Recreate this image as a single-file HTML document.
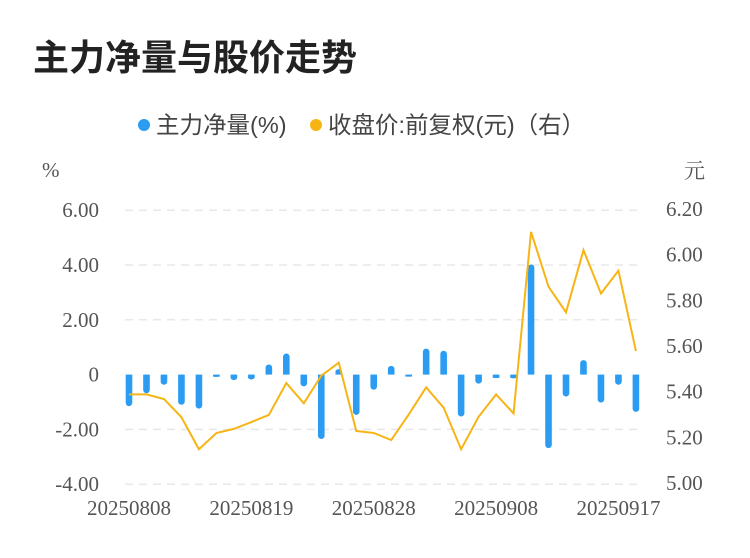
<!DOCTYPE html>
<html><head><meta charset="utf-8">
<style>
body{margin:0;background:#fff;width:750px;height:558px;overflow:hidden}
svg{display:block}
.t{font-family:"Liberation Serif","Noto Serif CJK SC",serif;fill:#555;font-size:21px}
</style></head>
<body>
<svg id="chart" width="750" height="558">
<text x="33" y="70" font-family="Liberation Sans,'Noto Sans CJK SC',sans-serif" font-weight="bold" font-size="36" fill="#222">主力净量与股价走势</text>
<g>
<g><circle cx="144" cy="125" r="6" fill="#2b9cf2"/><text x="156" y="133" font-family="Liberation Sans,'Noto Sans CJK SC',sans-serif" font-size="23.5" fill="#444">主力净量(%)</text></g>
<g><circle cx="316" cy="125" r="6" fill="#f7b515"/><text x="328" y="133" font-family="Liberation Sans,'Noto Sans CJK SC',sans-serif" font-size="23.5" fill="#444">收盘价:前复权(元)（右）</text></g>
</g>
<text class="t" x="42" y="177">%</text>
<text class="t" x="684" y="178" font-size="22" font-family="'Noto Sans CJK SC',sans-serif">元</text>
<g id="grid"></g><g id="bars"></g><g id="line"></g><g id="axes"></g>
</svg>
<script>
const categories=["20250808","0811","0812","0813","0814","0815","0818","20250819","0820","0821","0822","0825","0826","0827","20250828","0829","0901","0902","0903","0904","0905","20250908","0909","0910","0911","0912","0915","0916","20250917","0918"];
const netVolume=[-1.15,-0.68,-0.37,-1.1,-1.24,-0.08,-0.2,-0.18,0.37,0.77,-0.43,-2.35,0.2,-1.47,-0.55,0.32,-0.03,0.95,0.87,-1.53,-0.33,-0.13,-0.14,4.02,-2.68,-0.8,0.53,-1.02,-0.37,-1.36];
const closePrice=[5.388,5.388,5.368,5.288,5.148,5.219,5.237,5.267,5.298,5.438,5.349,5.47,5.527,5.228,5.219,5.188,5.30,5.419,5.33,5.148,5.29,5.388,5.305,6.10,5.86,5.748,6.02,5.83,5.93,5.578];
const leftTicks=[6,4,2,0,-2,-4];
const leftTickLabels=["6.00","4.00","2.00","0","-2.00","-4.00"];
const rightTicks=[6.2,6.0,5.8,5.6,5.4,5.2,5.0];
const rightTickLabels=["6.20","6.00","5.80","5.60","5.40","5.20","5.00"];
const xLabelIdx=[0,7,14,21,28];
const xLabels=["20250808","20250819","20250828","20250908","20250917"];
const NS="http://www.w3.org/2000/svg";
const yL=v=>374.6-(v)*27.4;
const yR=v=>483-(v-5)*228.3;
const xB=i=>129+i*17.48;
function mk(t,a,p){const e=document.createElementNS(NS,t);for(const k in a)e.setAttribute(k,a[k]);p.appendChild(e);return e;}
const grid=document.getElementById('grid'),axes=document.getElementById('axes');
leftTicks.forEach((v,i)=>{
 if(v!==0){const l=mk('line',{x1:125,x2:640,y1:yL(v),y2:yL(v),stroke:'#e8e8e8','stroke-width':1.5,'stroke-dasharray':'8,6'},grid);
 
 }
 const t=mk('text',{class:'t',x:99,y:yL(v)+7,'text-anchor':'end'},axes);t.textContent=leftTickLabels[i];
 
 
});
rightTicks.forEach((v,i)=>{
 const t=mk('text',{class:'t',x:666,y:yR(v)+7},axes);t.textContent=rightTickLabels[i];
 
 
});
xLabelIdx.forEach((ix,i)=>{
 const t=mk('text',{class:'t',x:xB(ix),y:515,'text-anchor':'middle'},axes);t.textContent=xLabels[i];
 
 
});
const bars=document.getElementById('bars');
netVolume.forEach((v,i)=>{
 const y0=yL(0),y1=yL(v);const top=Math.min(y0,y1),h=Math.max(Math.abs(y1-y0),2);
 const g=mk('g',{},bars);
 mk('rect',{x:xB(i)-3.3,y:top,width:6.6,height:h,rx:3.3,fill:'#2b9cf2'},g);
 mk('rect',{x:xB(i)-3.3,y:v>=0?top+h-3.3:top,width:6.6,height:Math.min(3.3,h),fill:'#2b9cf2'},g);
 
 
});
const pts=closePrice.map((v,i)=>xB(i)+','+yR(v)).join(' ');
const pl=mk('polyline',{points:pts,fill:'none',stroke:'#f7b515','stroke-width':2,'stroke-linejoin':'miter'},document.getElementById('line'));


</script>
</body></html>
